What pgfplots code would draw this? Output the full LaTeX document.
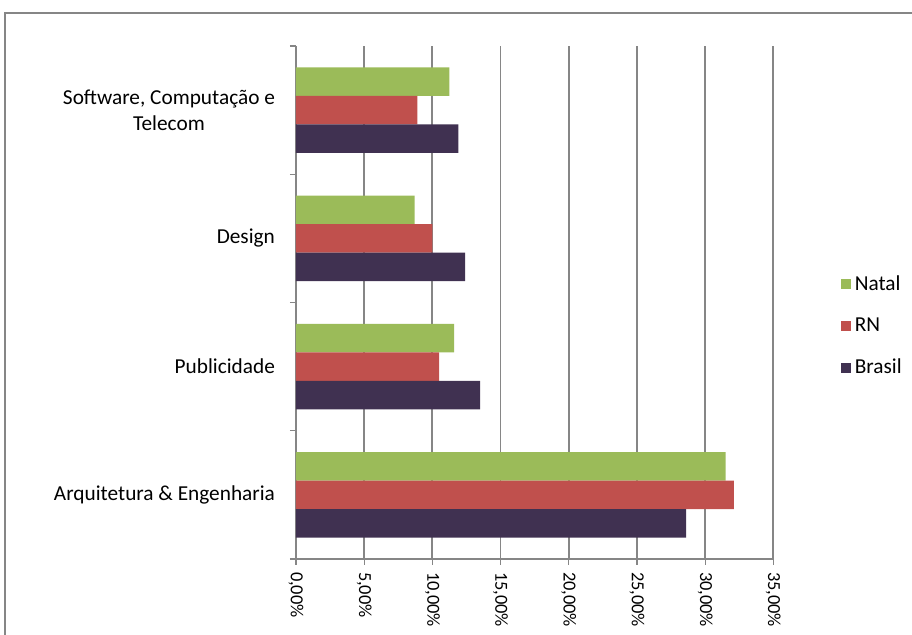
\documentclass[border=0pt]{standalone}
\usepackage{pgfplots}
\pgfplotsset{compat=1.18}
\usepackage{fontspec}
\setmainfont{Carlito}
\definecolor{natal}{HTML}{9BBB59}
\definecolor{rn}{HTML}{C0504D}
\definecolor{brasil}{HTML}{403151}
\definecolor{gridgray}{HTML}{868686}
\begin{document}
\begin{tikzpicture}
\useasboundingbox (0,0) rectangle (456pt,-317.5pt);
\draw[gridgray, line width=0.6pt] (2.5pt,-330pt) -- (2.5pt,-6.5pt) -- (470pt,-6.5pt);
\begin{axis}[
  at={(148pt,-279.5pt)}, anchor=south west,
  scale only axis, width=238.65pt, height=256.5pt,
  xmin=0, xmax=35, ymin=-0.5, ymax=3.5,
  axis x line*=bottom, axis y line*=left,
  axis line style={gridgray, line width=0.6pt},
  xmajorgrids, grid style={gridgray, line width=0.9pt},
  tick align=outside, major tick length=3pt,
  xtick={0,5,...,35},
  xticklabels={{0,00\%},{5,00\%},{10,00\%},{15,00\%},{20,00\%},{25,00\%},{30,00\%},{35,00\%}},
  xticklabel style={rotate=-90, anchor=west, font=\fontsize{9.2}{11}\selectfont, text=black},
  xtick style={gridgray, line width=0.6pt},
  ytick={0,1,2,3},
  yticklabels={Arquitetura \& Engenharia, Publicidade, Design, {Software, Computação e\\Telecom}},
  yticklabel style={align=center, font=\fontsize{10.65}{12.8}\selectfont, text=black},
  ytick style={draw=none},
  yticklabel shift=4pt,
  extra y ticks={-0.5,0.5,1.5,2.5,3.5},
  extra y tick labels={},
  extra y tick style={ytick style={draw=gridgray, line width=0.6pt}},
  legend style={at={(1.128,0.454)}, anchor=west, draw=none, fill=none,
    font=\fontsize{10.65}{12.8}\selectfont, row sep=8.3pt},
  legend cell align=left,
  legend image code/.code={\fill[#1] (0pt,-2.5pt) rectangle (5pt,2.5pt);},
]
\addplot[xbar, bar width=0.222, bar shift=0.222, fill=natal, draw=none]
  coordinates {(31.5,0) (11.6,1) (8.7,2) (11.25,3)};
\addlegendentry{Natal}
\addplot[xbar, bar width=0.222, bar shift=0, fill=rn, draw=none]
  coordinates {(32.1,0) (10.5,1) (10.0,2) (8.9,3)};
\addlegendentry{RN}
\addplot[xbar, bar width=0.222, bar shift=-0.222, fill=brasil, draw=none]
  coordinates {(28.6,0) (13.5,1) (12.4,2) (11.9,3)};
\addlegendentry{Brasil}
\end{axis}
\end{tikzpicture}
\end{document}
